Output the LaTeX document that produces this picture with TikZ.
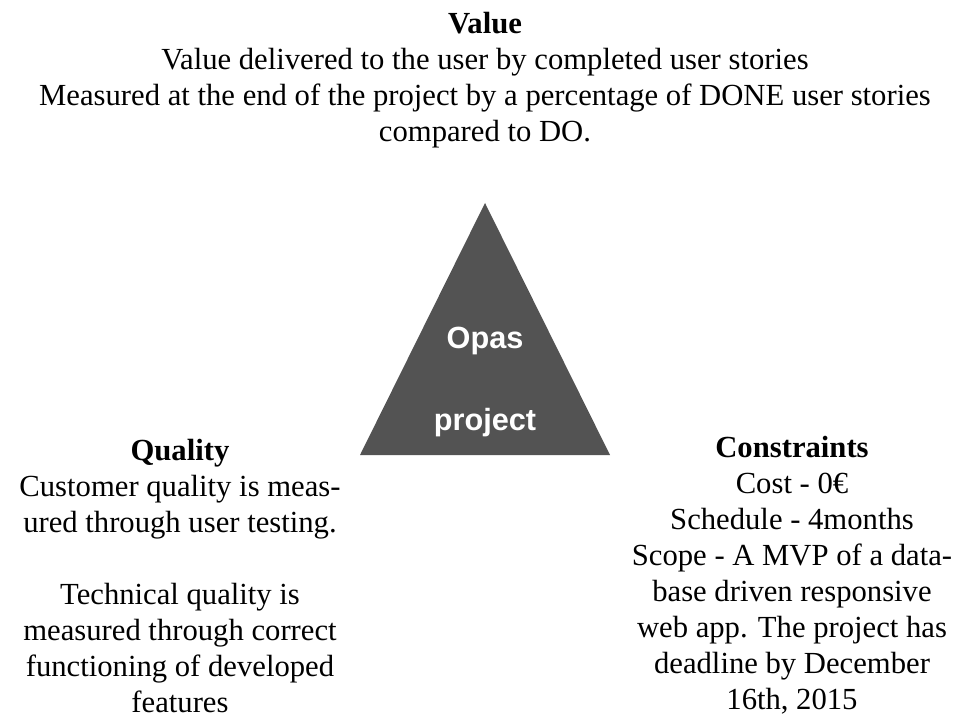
\documentclass[tikz,border=0pt]{standalone}
\usepackage{fontspec}
\setmainfont{Liberation Serif}
\newfontfamily\opasfont{Liberation Sans}
\usepackage{tikz}
\usetikzlibrary{positioning}
\definecolor{pyramid}{HTML}{535353}
\newcommand{\HD}[1]{\textbf{#1}}

\begin{document}
\begin{tikzpicture}[x=0.75pt, y=-0.75pt,
  txt/.style={align=center, inner sep=0pt, font=\fontsize{23}{27}\selectfont},
  opas/.style={align=center, inner sep=0pt, text=white, font=\opasfont\bfseries\fontsize{23}{27}\selectfont}]

  \useasboundingbox (0,0) rectangle (970,723);

  % value on top
  \node[txt, anchor=north] (value) at (485, 12) {\HD{Value}\\
    Value delivered  to the user by completed  user stories\\
    Measured at the end of the project by a percentage of DONE user stories\\
    compared to DO.};

  % the triangle
  \coordinate (apex) at (485, 203);
  \coordinate (left) at (360, 455);
  \coordinate (right) at (610, 455);
  \fill[pyramid] (apex) -- (left) -- (right) -- cycle;
  \node[opas] (opas) at (485, 382) {Opas\\[35pt]project};

  % quality, bottom left
  \node[txt, anchor=north] (quality) at (180, 439) {\HD{Quality}\\
    Customer quality is meas-\\
    ured through user testing.\\[27pt]
    Technical quality is\\
    measured through correct\\
    functioning of developed\\
    features};

  % constraints, bottom right
  \node[txt, anchor=north] (constraints) at (792, 436) {\HD{Constraints}\\
    Cost - 0€\\
    Schedule - 4months\\
    Scope - A MVP of a data-\\
    base driven responsive\\
    web app. The project has\\
    deadline by December\\
    16th, 2015};

\end{tikzpicture}
\end{document}
